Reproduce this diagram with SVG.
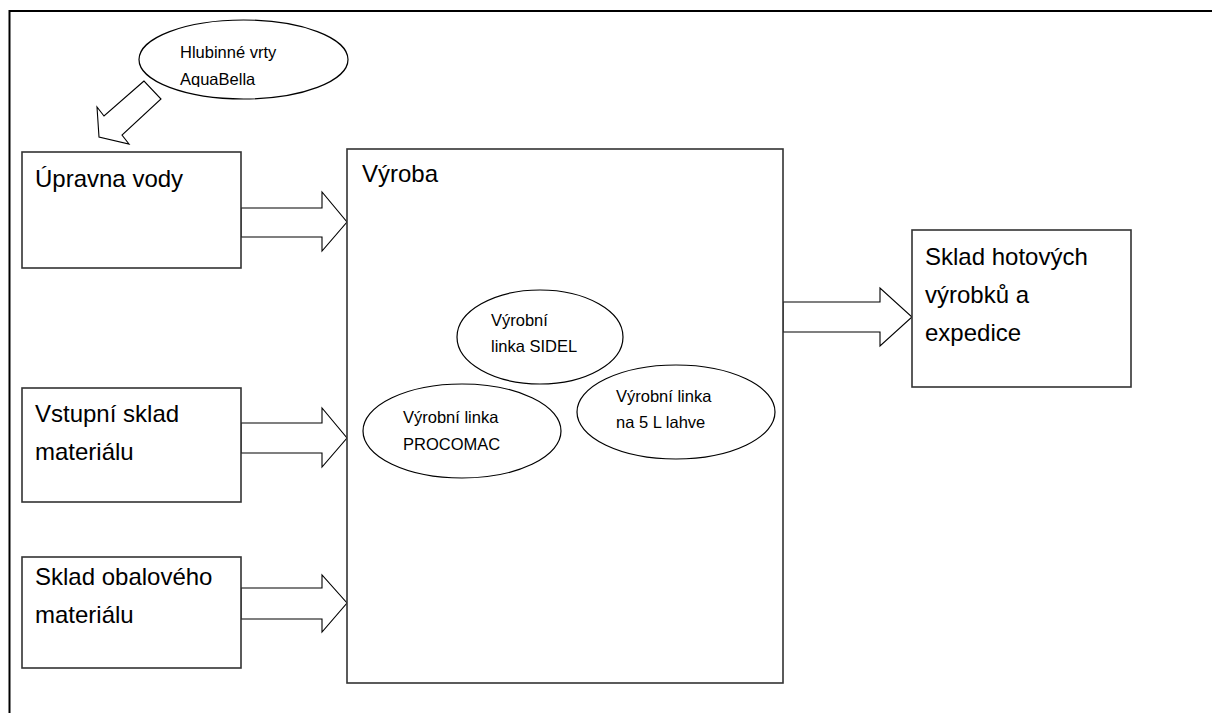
<svg xmlns="http://www.w3.org/2000/svg" width="1212" height="713" viewBox="0 0 1212 713">
<style>
.box{fill:#fff;stroke:#333;stroke-width:1.6}
.ell{fill:#fff;stroke:#000;stroke-width:1.2}
.arr{fill:#fff;stroke:#000;stroke-width:1.1;stroke-linejoin:miter}
.frame{fill:none;stroke:#000;stroke-width:2}
.big{font-family:"Liberation Sans",Arial,sans-serif;font-size:24px;fill:#000}
.small{font-family:"Liberation Sans",Arial,sans-serif;font-size:16.5px;fill:#000}
</style>
<defs>
<clipPath id="clipHl"><rect x="130" y="15" width="230" height="72"/></clipPath>
</defs>
<rect width="1212" height="713" fill="#fff"/>
<g id="frame">
<path class="frame" d="M9.5 713 V11 H1212"/>
</g>
<g id="connectors">
<polygon class="arr" points="144,81 104,116 97,107 99,137 129,144 122,135 161,99"/>
<polygon class="arr" points="241,208 322,208 322,192 347,222 322,251 322,237 241,237"/>
<polygon class="arr" points="241,423 322,423 322,408 347,438 322,467 322,453 241,453"/>
<polygon class="arr" points="241,588 322,588 322,575 347,603 322,632 322,619 241,619"/>
<polygon class="arr" points="783,302 880,302 880,288 912,317 880,346 880,332 783,332"/>
</g>
<g id="hlubinne">
<ellipse class="ell" cx="243.5" cy="59.5" rx="104.5" ry="39.5"/>
<g clip-path="url(#clipHl)">
<text class="small" x="180" y="58">Hlubinné vrty</text>
<text class="small" x="180" y="85">AquaBella</text>
</g>
</g>
<g id="upravna">
<rect class="box" x="22" y="152" width="219" height="116"/>
<text class="big" x="35" y="187">Úpravna vody</text>
</g>
<g id="vstupni">
<rect class="box" x="22" y="388" width="219" height="114"/>
<text class="big" x="35" y="422">Vstupní sklad</text>
<text class="big" x="35" y="460">materiálu</text>
</g>
<g id="obalovy">
<rect class="box" x="22" y="557" width="219" height="111"/>
<text class="big" x="35" y="585">Sklad obalového</text>
<text class="big" x="35" y="623">materiálu</text>
</g>
<g id="vyroba">
<rect class="box" x="347" y="149" width="436" height="534"/>
<text class="big" x="362" y="182">Výroba</text>
</g>
<g id="sidel">
<ellipse class="ell" cx="540" cy="337" rx="83" ry="47"/>
<text class="small" x="491" y="326">Výrobní</text>
<text class="small" x="491" y="352">linka SIDEL</text>
</g>
<g id="linka5l">
<ellipse class="ell" cx="676" cy="412" rx="99" ry="47"/>
<text class="small" x="616" y="402">Výrobní linka</text>
<text class="small" x="616" y="428">na 5 L lahve</text>
</g>
<g id="procomac">
<ellipse class="ell" cx="462" cy="431" rx="99" ry="47"/>
<text class="small" x="403" y="423">Výrobní linka</text>
<text class="small" x="403" y="450">PROCOMAC</text>
</g>
<g id="sklad-hotovych">
<rect class="box" x="912" y="230" width="219" height="157"/>
<text class="big" x="925" y="265">Sklad hotových</text>
<text class="big" x="925" y="303">výrobků a</text>
<text class="big" x="925" y="341">expedice</text>
</g>
</svg>
